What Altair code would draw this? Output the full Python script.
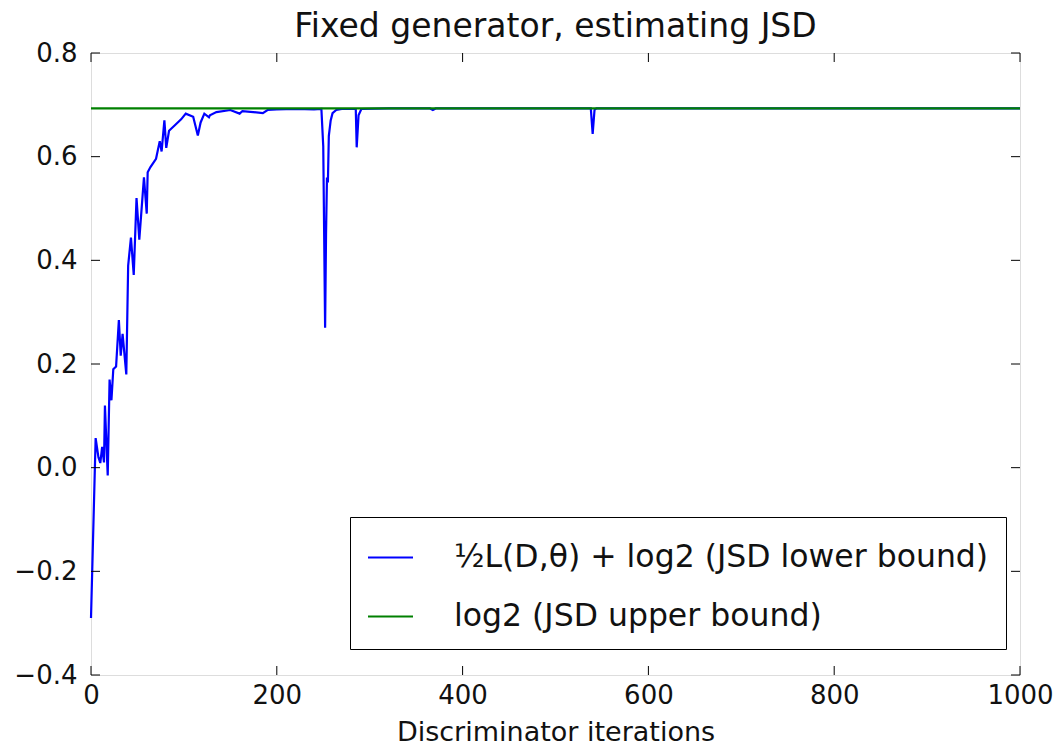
import altair as alt
import pandas as pd

# ---- data ----
blue_x = [0, 5, 8, 10, 12, 14, 15, 18, 20, 22, 24, 27, 30, 32, 34, 38, 40, 43, 46, 49,
          52, 57, 60, 61, 64, 70, 74, 76, 79, 81, 84, 90, 97, 102, 110, 115, 118, 122,
          127, 128, 135, 150, 160, 163, 185, 190, 200, 220, 240, 248, 250, 252, 253,
          254, 255, 256, 258, 260, 264, 270, 285, 286, 288, 291, 320, 365, 368, 371,
          538, 540, 542, 544, 1000]
blue_y = [-0.29, 0.057, 0.02, 0.009, 0.04, 0.01, 0.12, -0.015, 0.17, 0.13, 0.19, 0.195,
          0.285, 0.216, 0.258, 0.18, 0.39, 0.444, 0.372, 0.52, 0.44, 0.56, 0.49, 0.57,
          0.58, 0.596, 0.63, 0.61, 0.67, 0.617, 0.65, 0.66, 0.672, 0.683, 0.677, 0.641,
          0.666, 0.683, 0.676, 0.68, 0.686, 0.69, 0.683, 0.688, 0.684, 0.69, 0.691,
          0.692, 0.691, 0.692, 0.62, 0.27, 0.45, 0.56, 0.55, 0.64, 0.67, 0.684, 0.69,
          0.692, 0.692, 0.618, 0.68, 0.692, 0.693, 0.693, 0.69, 0.693, 0.693, 0.644,
          0.69, 0.693, 0.693]
green_x = [0, 1000]
green_y = [0.6931, 0.6931]

series_names = ["½L(D,θ) + log2 (JSD lower bound)", "log2 (JSD upper bound)"]
series_colors = ["#0000ff", "#008000"]

x_ticks = [0, 200, 400, 600, 800, 1000]
y_ticks = [-0.4, -0.2, 0.0, 0.2, 0.4, 0.6, 0.8]

W, H = 929, 622
FONT = "DejaVu Sans"

rows = []
for i, (x, y) in enumerate(zip(blue_x, blue_y)):
    rows.append({"x": x, "y": y, "s": series_names[0], "o": i})
for i, (x, y) in enumerate(zip(green_x, green_y)):
    rows.append({"x": x, "y": y, "s": series_names[1], "o": i})
df = pd.DataFrame(rows)

xs = alt.Scale(domain=[0, 1000], nice=False, zero=False)
ys = alt.Scale(domain=[-0.4, 0.8], nice=False, zero=False)

lines = alt.Chart(df).mark_line(strokeWidth=2.2).encode(
    x=alt.X("x:Q", scale=xs, axis=alt.Axis(values=x_ticks, title="Discriminator iterations",
                                           format="d", grid=False, ticks=False, domain=False,
                                           labelFontSize=26, titleFontSize=27, labelPadding=7,
                                           titlePadding=11, labelFont=FONT, titleFont=FONT,
                                           labelFlush=False, labelOverlap=False,
                                           labelColor="#111", titleColor="#111",
                                           titleFontWeight="normal")),
    y=alt.Y("y:Q", scale=ys, axis=alt.Axis(values=y_ticks, title=None, format=".1f",
                                           grid=False, ticks=False, domain=False,
                                           labelFontSize=26, labelPadding=14, labelFont=FONT,
                                           labelFlush=False, labelOverlap=False,
                                           labelColor="#111")),
    color=alt.Color("s:N", scale=alt.Scale(domain=series_names, range=series_colors),
                    legend=alt.Legend(title=None, orient="none", legendX=259, legendY=464,
                                      symbolType="stroke", symbolSize=2025,
                                      symbolStrokeWidth=2, labelFontSize=31.5, labelFont=FONT,
                                      labelColor="#111", labelOffset=40, rowPadding=20,
                                      padding=17, strokeColor="black", fillColor="white",
                                      labelLimit=900)),
    order="o:Q",
)

tdf_x = pd.DataFrame({"t": x_ticks})
tdf_y = pd.DataFrame({"t": y_ticks})
tick_bottom = alt.Chart(tdf_x).mark_rule(color="black", strokeWidth=1).encode(
    x=alt.X("t:Q", scale=xs), y=alt.value(H), y2=alt.value(H - 9))
tick_top = alt.Chart(tdf_x).mark_rule(color="black", strokeWidth=1).encode(
    x=alt.X("t:Q", scale=xs), y=alt.value(0), y2=alt.value(9))
tick_left = alt.Chart(tdf_y).mark_rule(color="black", strokeWidth=1).encode(
    y=alt.Y("t:Q", scale=ys), x=alt.value(0), x2=alt.value(9))
tick_right = alt.Chart(tdf_y).mark_rule(color="black", strokeWidth=1).encode(
    y=alt.Y("t:Q", scale=ys), x=alt.value(W), x2=alt.value(W - 9))

chart = alt.layer(lines, tick_bottom, tick_top, tick_left, tick_right).properties(
    width=W, height=H,
    title=alt.Title("Fixed generator, estimating JSD", fontSize=33, font=FONT,
                    fontWeight="normal", color="#111", offset=-4, anchor="middle"),
    autosize=alt.AutoSizeParams(type="none"),
    padding={"left": 91, "top": 53, "right": 37, "bottom": 76},
).configure_view(stroke="black", strokeWidth=2).configure(background="white")

chart.save("out.html", embed_options={"renderer": "svg", "actions": False})
